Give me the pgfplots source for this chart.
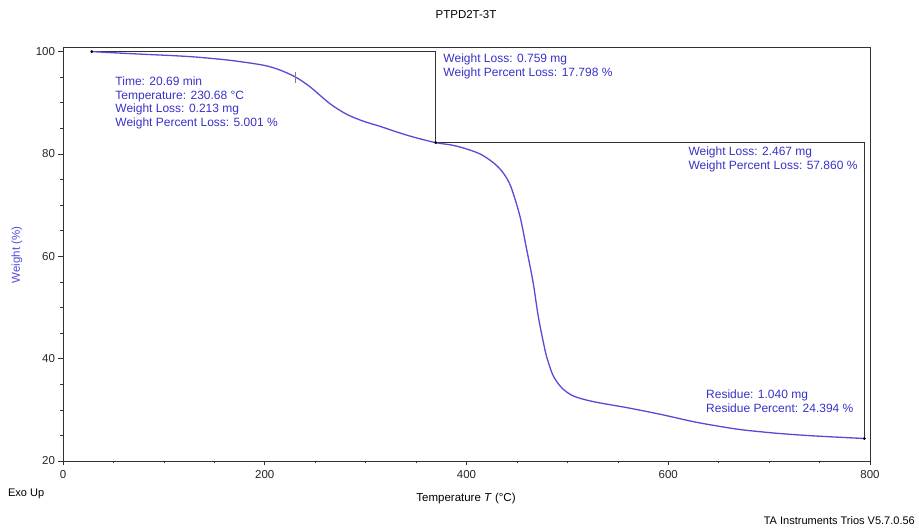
\documentclass[border=0pt]{standalone}
\usepackage{pgfplots}
\pgfplotsset{compat=1.18}
\usepackage{fontspec}
\setmainfont{Liberation Sans}
\definecolor{curveblue}{RGB}{85,75,215}
\definecolor{textblue}{RGB}{55,50,200}
\definecolor{labelblue}{RGB}{80,75,220}
\definecolor{framegray}{RGB}{50,50,50}
\begin{document}
\begin{tikzpicture}
\path[use as bounding box] (-63pt,-71pt) rectangle (856pt,461pt);
\begin{axis}[
  at={(0,0)}, anchor=south west,
  scale only axis, width=807pt, height=414pt,
  xmin=0, xmax=800, ymin=20, ymax=100.9,
  xtick={0,200,400,600,800}, ytick={20,40,60,80,100},
  minor x tick num=3, minor y tick num=3,
  tick align=outside, xtick pos=bottom, ytick pos=left,
  major tick length=4.5pt, minor tick length=2.5pt,
  every tick/.style={framegray, line width=0.6pt},
  axis line style={framegray, line width=0.8pt},
  tick label style={font=\fontsize{11.5}{13}\selectfont, text=black!85},
  xticklabel style={yshift=-1.5pt},
  /pgf/number format/assume math mode=true,
  title={PTPD2T-3T},
  title style={at={(axis description cs:0.4994,1.0797)}, anchor=center, yshift=-6.5pt, font=\fontsize{11.5}{13}\selectfont},
  xlabel={Temperature \textit{T} (°C)},
  xlabel style={at={(axis description cs:0.4994,-0.091)}, anchor=center, font=\fontsize{11.5}{13}\selectfont},
  ylabel={Weight (\%)},
  ylabel style={at={(axis description cs:-0.057,0.4976)}, anchor=center, font=\fontsize{11.5}{13}\selectfont, text=labelblue},
  clip=false,
]
% step brackets
\addplot[framegray, line width=0.8pt] coordinates {(28.5,100.0) (369.5,100.0) (369.5,82.2) (794.4,82.2) (794.4,24.39)};
% TGA curve
\addplot[curveblue, line width=1.3pt, smooth, tension=0.5] coordinates {
(28.5,100.0) (55,99.72) (83,99.45) (110,99.2) (132.5,98.92) (165.5,98.3)
(198.6,97.34) (215,96.4) (230.68,95.0) (245,93.1)
(264.8,89.8) (281.2,87.75) (297.7,86.4) (314.2,85.4) (330.8,84.3)
(347.3,83.3) (369.5,82.2) (385,81.75) (398,81.1) (413.4,80.0)
(426.6,78.3) (436,76.4) (444,73.6) (453,67.8) (459.7,61.3) (466.2,54.7)
(471.2,48.2) (477.8,41.7) (481.1,39.3) (486.1,36.6) (494.4,34.3)
(505.9,32.7) (525.7,31.6) (558.8,30.43) (591.8,29.14) (624.8,27.69)
(651.3,26.75) (674.4,26.07) (707.5,25.42) (740.5,24.95) (773.5,24.6)
(794.4,24.39)};
% end points of steps
\addplot[only marks, mark=*, mark size=1.2pt, black] coordinates {(28.5,100.0) (369.5,82.2) (794.4,24.39)};
% cursor marker
\addplot[only marks, mark=|, mark size=5.5pt, gray, line width=0.6pt] coordinates {(230.68,95.0)};
% annotations
\node[anchor=west, align=left, inner sep=0pt, text=textblue, font=\fontsize{12}{13.7}\selectfont] at (axis cs:51.8,90.0)
  {Time: 20.69 min\\Temperature: 230.68 °C\\Weight Loss: 0.213 mg\\Weight Percent Loss: 5.001 \%};
\node[anchor=west, align=left, inner sep=0pt, text=textblue, font=\fontsize{12}{14}\selectfont] at (axis cs:377,97.1)
  {Weight Loss: 0.759 mg\\Weight Percent Loss: 17.798 \%};
\node[anchor=west, align=left, inner sep=0pt, text=textblue, font=\fontsize{12}{13.7}\selectfont] at (axis cs:619.9,79.0)
  {Weight Loss: 2.467 mg\\Weight Percent Loss: 57.860 \%};
\node[anchor=west, align=left, inner sep=0pt, text=textblue, font=\fontsize{12}{13.7}\selectfont] at (axis cs:637.4,31.75)
  {Residue: 1.040 mg\\Residue Percent: 24.394 \%};
\node[anchor=west, inner sep=0pt, font=\fontsize{11}{13}\selectfont] at (axis description cs:-0.0682,-0.079) {Exo Up};
\node[anchor=east, inner sep=0pt, font=\fontsize{11}{13}\selectfont] at (axis description cs:1.0558,-0.1445) {TA Instruments Trios V5.7.0.56};
\end{axis}
\end{tikzpicture}
\end{document}
